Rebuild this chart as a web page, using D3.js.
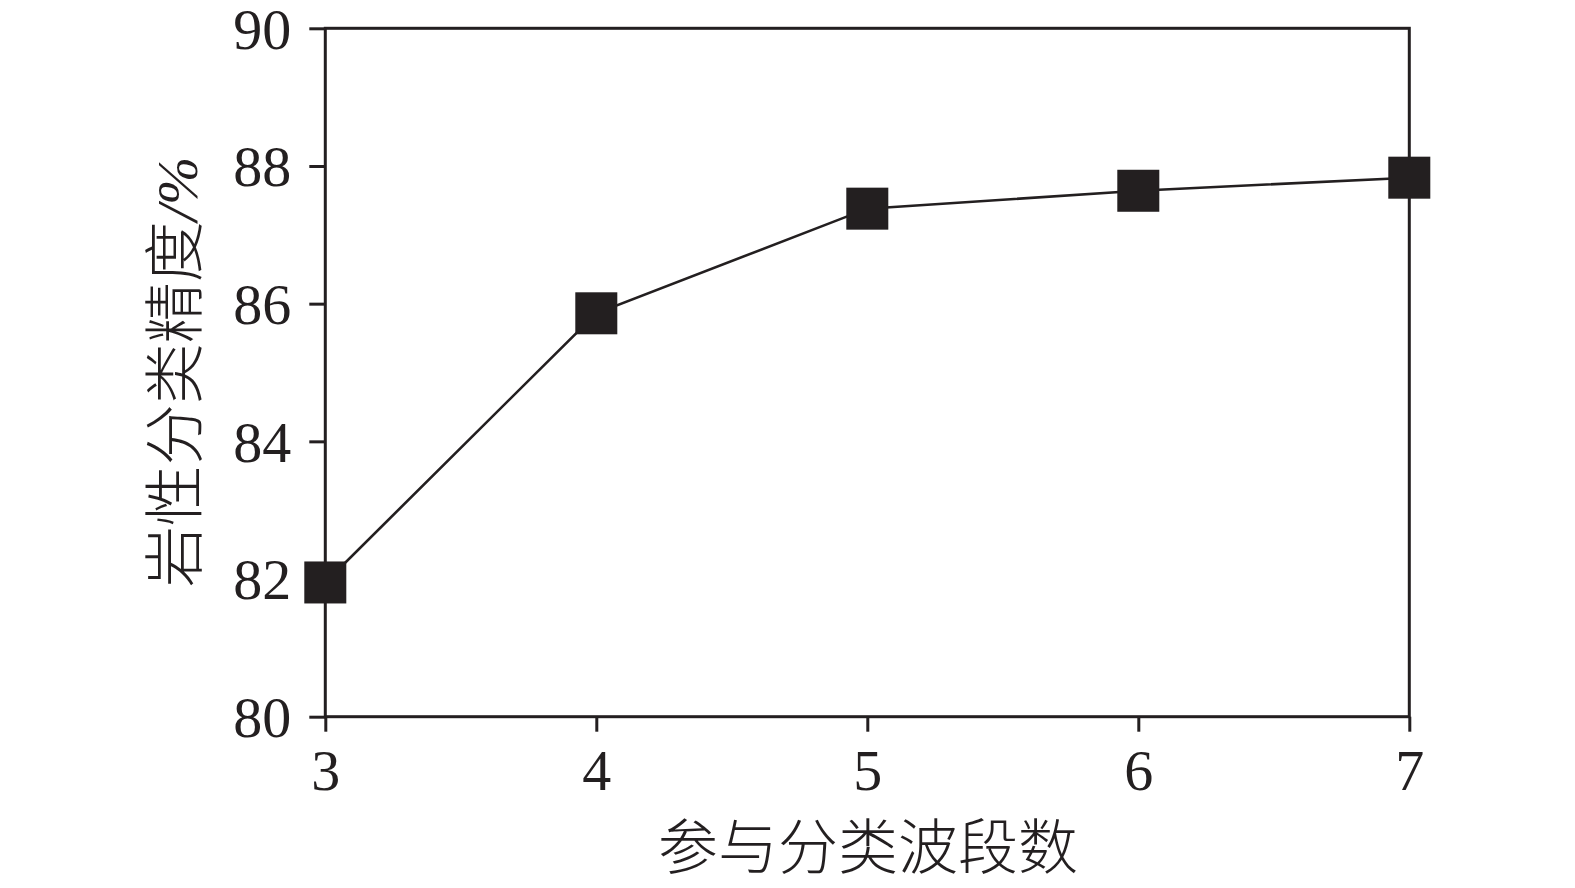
<!DOCTYPE html>
<html><head><meta charset="utf-8">
<script src="https://cdn.jsdelivr.net/npm/d3@7"></script>
<style>body{margin:0;background:#fff}svg{display:block}</style>
</head><body>
<svg id="c" width="1575" height="888"></svg>
<script>
const bands = [3, 4, 5, 6, 7];
const accuracy = [81.95, 85.86, 87.38, 87.64, 87.83];
const yTicks = [80, 82, 84, 86, 88, 90];
const xTitle = "参与分类波段数";
const yTitle = "岩性分类精度";
const yUnit = "/%";

const ink = "#231f20";
const svg = d3.select("#c");
const m = {l: 325.3, r: 1409.3, t: 28.3, b: 716.7};
const x = d3.scaleLinear().domain([3, 7]).range([m.l, m.r]);
const y = d3.scaleLinear().domain([80, 90]).range([m.b, m.t]);

svg.append("rect").attr("x", m.l).attr("y", m.t).attr("width", m.r - m.l).attr("height", m.b - m.t)
  .attr("fill", "none").attr("stroke", ink).attr("stroke-width", 3);

const fontNum = "'Liberation Serif','Times New Roman',Times,serif";
const yAxis = svg.append("g").attr("transform", `translate(${m.l},0)`)
  .call(d3.axisLeft(y).tickValues(yTicks).tickSize(16).tickPadding(18).tickFormat(d3.format("d")));
const xAxis = svg.append("g").attr("transform", `translate(0,${m.b})`)
  .call(d3.axisBottom(x).tickValues(bands).tickSize(15).tickPadding(17).tickFormat(d3.format("d")));
[yAxis, xAxis].forEach(g => {
  g.attr("font-family", null).attr("font-size", null);
  g.select(".domain").remove();
  g.selectAll("line").attr("stroke", ink).attr("stroke-width", 3);
  g.selectAll("text").attr("fill", ink).style("font-family", fontNum).style("font-size", "58px");
});
yAxis.selectAll("text").attr("dy", "0.34em");

const pts = bands.map((b, i) => [b, accuracy[i]]);
svg.append("path").datum(pts)
  .attr("d", d3.line().x(d => x(d[0])).y(d => y(d[1])))
  .attr("fill", "none").attr("stroke", ink).attr("stroke-width", 2.6);
const s = 42;
svg.selectAll("rect.pt").data(pts).join("rect").attr("class", "pt")
  .attr("x", d => x(d[0]) - s / 2).attr("y", d => y(d[1]) - s / 2)
  .attr("width", s).attr("height", s).attr("fill", ink);

const cjk = "'Noto Sans CJK SC','Noto Sans CJK JP',sans-serif";
svg.append("text").attr("x", 868).attr("y", 869).attr("text-anchor", "middle")
  .style("font-family", cjk).style("font-size", "60px").style("font-weight", 300).attr("fill", ink)
  .text(xTitle);

const yt = svg.append("text").attr("transform", "translate(197,372) rotate(-90)").attr("text-anchor", "middle")
  .style("font-family", cjk).style("font-size", "61px").style("font-weight", 300).attr("fill", ink);
yt.append("tspan").text(yTitle);
yt.append("tspan").style("font-family", fontNum).style("font-style", "italic").style("font-size", "58px").text(yUnit);
</script>
</body></html>
